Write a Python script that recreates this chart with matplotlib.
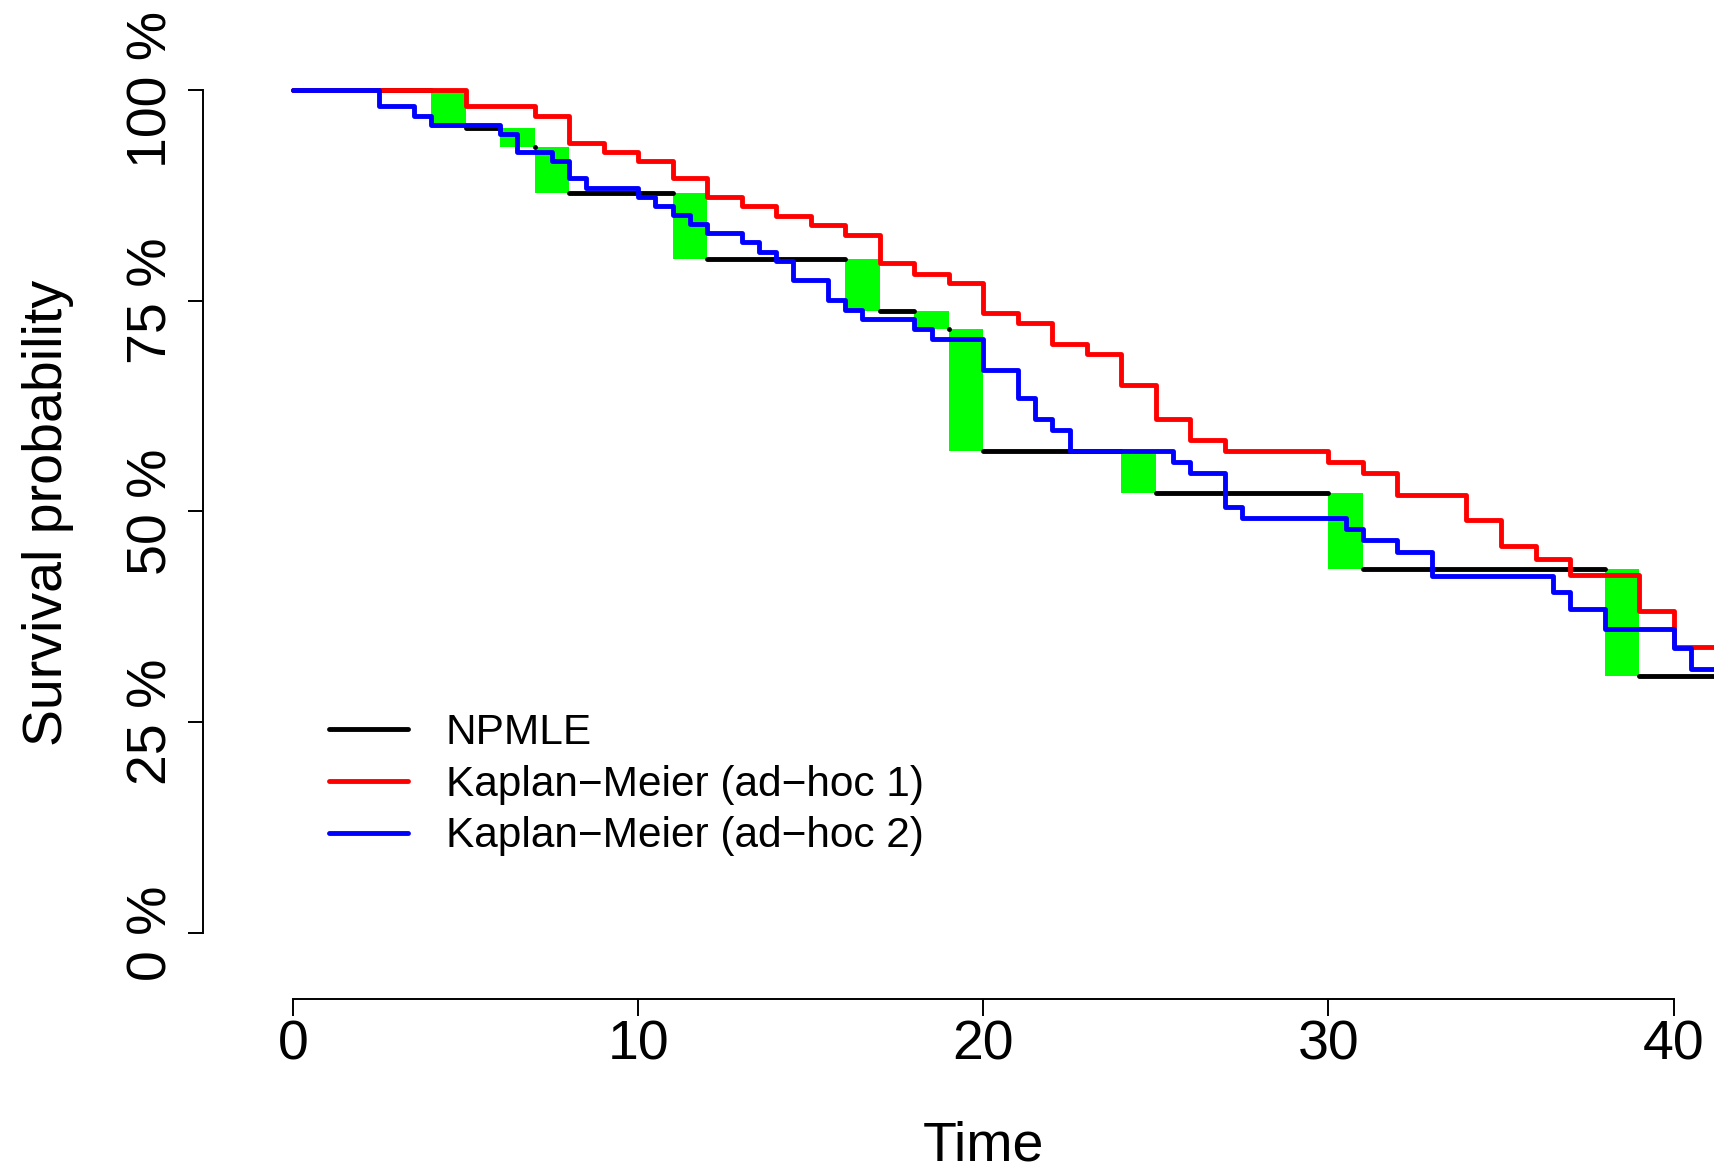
import matplotlib
matplotlib.use("Agg")
import matplotlib.pyplot as plt

plt.rcParams['font.family'] = ['Liberation Sans', 'DejaVu Sans']

# NPMLE (Turnbull) : intervals of non-uniqueness and survival levels (%)
npmle_left = [4, 6, 7, 11, 16, 18, 19, 24, 30, 38]
npmle_right = [5, 7, 8, 12, 17, 19, 20, 25, 31, 39]
npmle_surv = [100, 95.5, 93.2, 87.7, 79.9, 73.8, 71.6, 57.2, 52.2, 43.2, 30.5]

# Kaplan-Meier (ad-hoc 1)
km1_time = [0, 5, 7, 8, 9, 10, 11, 12, 13, 14, 15, 16, 17, 18, 19, 20, 21,
            22, 23, 24, 25, 26, 27, 30, 31, 32, 34, 35, 36, 37, 39, 40]
km1_surv = [100, 98.1, 96.9, 93.7, 92.6, 91.6, 89.5, 87.3, 86.2, 85.05, 83.9,
            82.8, 79.4, 78.2, 77.1, 73.5, 72.3, 69.9, 68.7, 65.0, 61.0, 58.5,
            57.2, 55.9, 54.5, 51.9, 49.0, 45.9, 44.3, 42.5, 38.2, 33.9]

# Kaplan-Meier (ad-hoc 2)
km2_time = [0, 2.5, 3.5, 4, 6, 6.5, 7.5, 8, 8.5, 10, 10.5, 11, 11.5, 12, 13,
            13.5, 14, 14.5, 15.5, 16, 16.5, 18, 18.5, 20, 21, 21.5, 22, 22.5,
            25.5, 26, 27, 27.5, 30.5, 31, 32, 33, 36.5, 37, 38, 40, 40.5]
km2_surv = [100, 98.1, 96.9, 95.8, 94.8, 92.6, 91.6, 89.5, 88.4, 87.3, 86.2,
            85.1, 84.1, 83.0, 82.0, 80.8, 79.7, 77.4, 75.1, 73.9, 72.8, 71.6,
            70.4, 66.8, 63.4, 60.9, 59.7, 57.2, 55.8, 54.5, 50.5, 49.2, 47.9,
            46.6, 45.2, 42.3, 40.4, 38.4, 36.1, 33.8, 31.3]

t_end = 45  # curves run past the right edge

xticks = [0, 10, 20, 30, 40]
yticks = [0, 25, 50, 75, 100]
ytick_labels = ["0 %", "25 %", "50 %", "75 %", "100 %"]
labels = ["NPMLE", "Kaplan\u2212Meier (ad\u2212hoc 1)", "Kaplan\u2212Meier (ad\u2212hoc 2)"]

fig = plt.figure(figsize=(17.15, 11.72), dpi=100)
ax = fig.add_axes([0.1181, 0.1476, 0.8819, 0.8524])

# green boxes where the NPMLE is not unique
widths = [r - l for l, r in zip(npmle_left, npmle_right)]
heights = [npmle_surv[i] - npmle_surv[i + 1] for i in range(len(npmle_left))]
bottoms = npmle_surv[1:]
ax.bar(npmle_left, heights, width=widths, bottom=bottoms, align='edge',
       color='#00FF00', linewidth=0, zorder=1)

# NPMLE horizontal pieces
starts = [0] + npmle_right
ends = npmle_left + [t_end]
lw = 3.5
for i in range(len(npmle_surv)):
    if starts[i] == ends[i]:
        # zero length piece -> just a dot, like R's round line end
        ax.plot([starts[i]], [npmle_surv[i]], 'o', color='black', ms=lw,
                mew=0, zorder=2)
        continue
    ln, = ax.plot([starts[i], ends[i]], [npmle_surv[i], npmle_surv[i]],
                  color='black', lw=lw, solid_capstyle='round', zorder=2)
    if i == 0:
        h_npmle = ln

h_km1, = ax.step(km1_time + [t_end], km1_surv + [km1_surv[-1]], where='post',
                 color='#FF0000', lw=lw, solid_capstyle='round',
                 solid_joinstyle='round', zorder=3)
h_km2, = ax.step(km2_time + [t_end], km2_surv + [km2_surv[-1]], where='post',
                 color='#0000FF', lw=lw, solid_capstyle='round',
                 solid_joinstyle='round', zorder=4)

ax.set_xlim(-2.62, 41.2)
ax.set_ylim(-7.83, 110.64)

for s in ['top', 'right']:
    ax.spines[s].set_visible(False)
ax.spines['left'].set_bounds(0, 100)
ax.spines['bottom'].set_bounds(0, 40)
ax.spines['left'].set_linewidth(1.4)
ax.spines['bottom'].set_linewidth(1.4)

ax.set_xticks(xticks)
ax.set_yticks(yticks)
ax.set_yticklabels(ytick_labels)
ax.tick_params(axis='x', length=12, width=1.4, pad=3, labelsize=40)
ax.tick_params(axis='y', length=10.5, width=1.4, pad=7, labelsize=40)
for lab in ax.get_yticklabels():
    lab.set_rotation(90)
    lab.set_va('center')

ax.set_xlabel("Time", fontsize=40, va='center')
ax.xaxis.set_label_coords(0.516, -0.148)
ax.set_ylabel("Survival probability", fontsize=40, va='center', ha='center')
ax.yaxis.set_label_coords(-0.1025, 0.487)

leg = ax.legend([h_npmle, h_km1, h_km2], labels, loc='center left',
                bbox_to_anchor=(0.0838, 0.2146), frameon=False, fontsize=30.5,
                handlelength=1.85, handletextpad=0.9, labelspacing=0.28,
                borderpad=0, borderaxespad=0)

fig.savefig("out.png", dpi=100)
